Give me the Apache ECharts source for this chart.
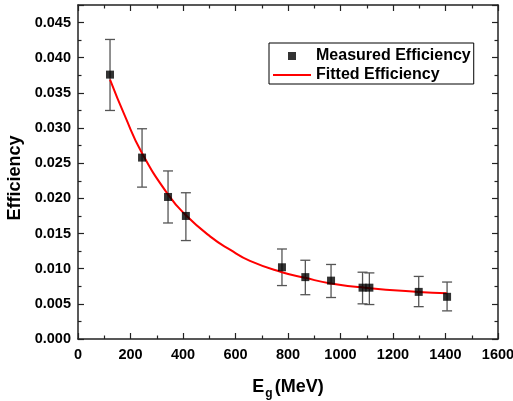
<!DOCTYPE html>
<html>
<head>
<meta charset="utf-8">
<script src="https://cdn.jsdelivr.net/npm/echarts@6/dist/echarts.min.js"></script>
<style>
  html, body { margin: 0; padding: 0; background: #fff; }
  #main { width: 513px; height: 401px; }
</style>
</head>
<body>
<div id="main"></div>
<script>
// measured points (E in MeV) with error bar ends
var energy = [122, 244, 343, 411, 777, 866, 964, 1084, 1110, 1298, 1406];
var eff = [0.0376, 0.0258, 0.0202, 0.0175, 0.0102, 0.0088, 0.0083, 0.0073, 0.0073, 0.0067, 0.0060];
var errLow = [0.0325, 0.0216, 0.0165, 0.0140, 0.0076, 0.0063, 0.0059, 0.0050, 0.0049, 0.0046, 0.0040];
var errHigh = [0.0426, 0.0299, 0.0239, 0.0208, 0.0128, 0.0112, 0.0106, 0.0095, 0.0094, 0.0089, 0.0081];

// fitted curve
var fitX = [122, 179, 243, 344, 411, 503, 579, 655, 777, 865, 963, 1093, 1296, 1405];
var fitY = [0.0369, 0.0317, 0.0265, 0.0205, 0.0176, 0.0146, 0.0127, 0.0111, 0.0095, 0.0087, 0.0079, 0.0073, 0.0067, 0.0065];

var xTicks = { min: 0, max: 1600, interval: 200 };
var yTicks = { min: 0, max: 0.0475, interval: 0.005 };

var font = 'Liberation Sans, Arial, sans-serif';
var frame = '#222';

var pts = [], errs = [], fit = [];
for (var i = 0; i < energy.length; i++) {
    pts.push([energy[i], eff[i]]);
    errs.push([energy[i], errLow[i], errHigh[i]]);
}
for (var j = 0; j < fitX.length; j++) {
    fit.push([fitX[j], fitY[j]]);
}

function renderErr(params, api) {
    var x = api.value(0);
    var top = api.coord([x, api.value(2)]);
    var bot = api.coord([x, api.value(1)]);
    var w = 5;
    var st = { stroke: '#555', lineWidth: 1.3 };
    return {
        type: 'group',
        children: [
            { type: 'line', shape: { x1: top[0], y1: top[1], x2: bot[0], y2: bot[1] }, style: st },
            { type: 'line', shape: { x1: top[0] - w, y1: top[1], x2: top[0] + w, y2: top[1] }, style: st },
            { type: 'line', shape: { x1: bot[0] - w, y1: bot[1], x2: bot[0] + w, y2: bot[1] }, style: st }
        ]
    };
}

function xAxisOf(pos, labels) {
    return {
        type: 'value',
        position: pos,
        min: xTicks.min, max: xTicks.max, interval: xTicks.interval,
        axisLine: { show: true, onZero: false, lineStyle: { color: frame, width: 1.5 } },
        axisTick: { show: true, inside: true, length: 6, lineStyle: { color: frame, width: 1.2 } },
        minorTick: { show: true, splitNumber: 2, length: 3.5, lineStyle: { color: frame, width: 1.2 } },
        splitLine: { show: false },
        axisLabel: {
            show: labels, margin: 8, color: '#000', fontFamily: font, fontWeight: 'bold', fontSize: 14.5,
            formatter: function (v) { return String(v); }
        }
    };
}

function yAxisOf(pos, labels) {
    return {
        type: 'value',
        position: pos,
        min: yTicks.min, max: yTicks.max, interval: yTicks.interval,
        axisLine: { show: true, onZero: false, lineStyle: { color: frame, width: 1.5 } },
        axisTick: { show: true, inside: true, length: 6, lineStyle: { color: frame, width: 1.2 } },
        minorTick: { show: true, splitNumber: 2, length: 3.5, lineStyle: { color: frame, width: 1.2 } },
        splitLine: { show: false },
        axisLabel: {
            show: labels, margin: 7, showMaxLabel: false,
            color: '#000', fontFamily: font, fontWeight: 'bold', fontSize: 14.5,
            formatter: function (v) { return v.toFixed(3); }
        }
    };
}

var myChart = echarts.init(document.getElementById('main'));

var option = {
    animation: false,
    backgroundColor: '#fff',
    grid: { left: 78, right: 15, top: 5, bottom: 62, outerBoundsMode: 'none' },
    xAxis: [xAxisOf('bottom', true), xAxisOf('top', false)],
    yAxis: [yAxisOf('left', true), yAxisOf('right', false)],
    legend: {
        orient: 'vertical',
        left: 269, top: 43,
        padding: [5, 3, 1, 4],
        itemWidth: 38, itemHeight: 8,
        itemGap: 3,
        borderColor: '#000', borderWidth: 1, borderRadius: 0,
        backgroundColor: '#fff',
        textStyle: { color: '#000', fontFamily: font, fontWeight: 'bold', fontSize: 16, lineHeight: 16 },
        data: [
            { name: 'Measured Efficiency', icon: 'path://M0,0h10v10h-10z' },
            { name: 'Fitted Efficiency', icon: 'path://M0,0h38v2h-38z' }
        ]
    },
    graphic: [
        {
            type: 'text', x: 15, y: 178, rotation: Math.PI / 2,
            style: { text: 'Efficiency', fill: '#000', font: 'bold 18px ' + font, align: 'center', verticalAlign: 'middle' }
        },
        {
            type: 'text', x: 288, y: 387,
            style: {
                text: '{a|E}{b|g}{a|(MeV)}',
                align: 'center', verticalAlign: 'middle',
                rich: {
                    a: { fontFamily: font, fontWeight: 'bold', fontSize: 18, lineHeight: 26, verticalAlign: 'middle', fill: '#000' },
                    b: { fontFamily: font, fontWeight: 'bold', fontSize: 12, lineHeight: 26, verticalAlign: 'bottom', fill: '#000', padding: [0, 2, 0, 1] }
                }
            }
        }
    ],
    series: [
        {
            name: 'errors',
            type: 'custom',
            renderItem: renderErr,
            encode: { x: 0, y: [1, 2] },
            data: errs,
            z: 2
        },
        {
            name: 'Fitted Efficiency',
            type: 'line',
            data: fit,
            smooth: 0.5,
            symbol: 'none',
            lineStyle: { color: '#ff0000', width: 2 },
            itemStyle: { color: '#ff0000' },
            z: 3
        },
        {
            name: 'Measured Efficiency',
            type: 'scatter',
            symbol: 'rect',
            symbolSize: 8,
            data: pts,
            itemStyle: { color: '#000' },
            z: 4
        }
    ]
};
myChart.setOption(option);
</script>
</body>
</html>
